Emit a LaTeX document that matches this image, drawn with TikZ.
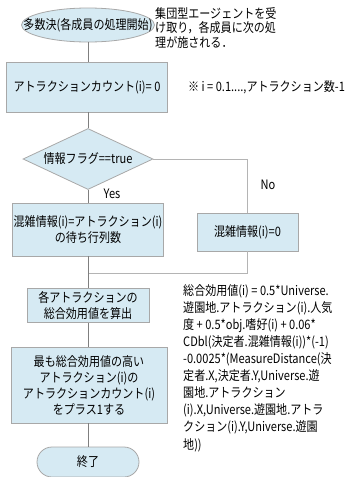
\documentclass[tikz,border=0pt]{standalone}
\usepackage{fontspec}
\setmainfont{Noto Sans CJK JP}[FakeStretch=0.85]
\usetikzlibrary{shapes.geometric}

\definecolor{boxfill}{HTML}{D6EAF3}
\definecolor{boxline}{HTML}{A8A8A8}
\definecolor{flowline}{HTML}{7F7F7F}
\definecolor{branchline}{HTML}{B4B4B4}

\begin{document}
\begin{tikzpicture}[x=1pt,y=-1pt,
    every node/.style={font=\fontsize{13}{16}\selectfont, inner sep=0pt},
    box/.style={draw=boxline, fill=boxfill, line width=0.8pt, rectangle, align=center},
    startshape/.style={draw=boxline, fill=boxfill, line width=0.8pt, ellipse},
    flagshape/.style={draw=boxline, fill=boxfill, line width=0.8pt, diamond},
    endshape/.style={draw=boxline, fill=boxfill, line width=0.8pt, rectangle, rounded corners=15pt},
    flow/.style={draw=flowline, line width=0.8pt},
    branch/.style={draw=branchline, line width=0.8pt}]

    \useasboundingbox (0,0) rectangle (345,477);

    % flow nodes
    \node[startshape, minimum width=133pt, minimum height=34pt, label=center:{多数決(各成員の処理開始)}] (start) at (88,25) {};
    \node[box, minimum width=161pt, minimum height=50pt] (count) at (87,87) {アトラクションカウント(i)= 0};
    \node[flagshape, minimum width=130pt, minimum height=61pt, label=center:{情報フラグ==true}] (flag) at (88,159) {};
    \node[box, minimum width=151pt, minimum height=53pt] (busy) at (88,229.5) {混雑情報(i)=アトラクション(i)\\の待ち行列数};
    \node[box, minimum width=101pt, minimum height=38pt] (zero) at (247.5,232) {混雑情報(i)=0};
    \coordinate (join) at (88,273);
    \node[box, minimum width=122pt, minimum height=34pt] (sum) at (88,305.5) {各アトラクションの\\総合効用値を算出};
    \node[box, minimum width=156pt, minimum height=76pt] (plus) at (89,385) {最も総合効用値の高い\\アトラクション(i)の\\アトラクションカウント(i)\\をプラス1する};
    \node[endshape, minimum width=102pt, minimum height=30pt] (end) at (88,462) {終了};

    % labels
    \node (yes) at (112,194) {Yes};
    \node (no) at (268,185) {No};
    \node[anchor=north west, align=left, font=\fontsize{13}{14.5}\selectfont] (remark) at (155,7) {集団型エージェントを受\\け取り，各成員に次の処\\理が施される．};
    \node[anchor=west] (range) at (188,87) {※ i = 0.1....,アトラクション数-1};
    \node[anchor=north west, align=left, font=\fontsize{13}{17.1}\selectfont] (formula) at (183,284) {総合効用値(i) = 0.5*Universe.\\遊園地.アトラクション(i).人気\\度 + 0.5*obj.嗜好(i) + 0.06*\\CDbl(決定者.混雑情報(i))*(-1)\\-0.0025*(MeasureDistance(決\\定者.X,決定者.Y,Universe.遊\\園地.アトラクション\\(i).X,Universe.遊園地.アトラ\\クション(i).Y,Universe.遊園\\地))};

    % connectors
    \draw[flow] (start.south) -- (start.south |- count.north);
    \draw[flow] (flag.north |- count.south) -- (flag.north);
    \draw[flow] (flag.south) -- (flag.south |- busy.north);
    \draw[branch] (flag.east) -| (zero.north);
    \draw[flow] (busy.south) -- (join);
    \draw[branch] (zero.south) |- (join);
    \draw[flow] (join) -- (sum.north);
    \draw[flow] (sum.south) -- (sum.south |- plus.north);
    \draw[flow] (sum.south |- plus.south) -- (end.north);
\end{tikzpicture}
\end{document}
